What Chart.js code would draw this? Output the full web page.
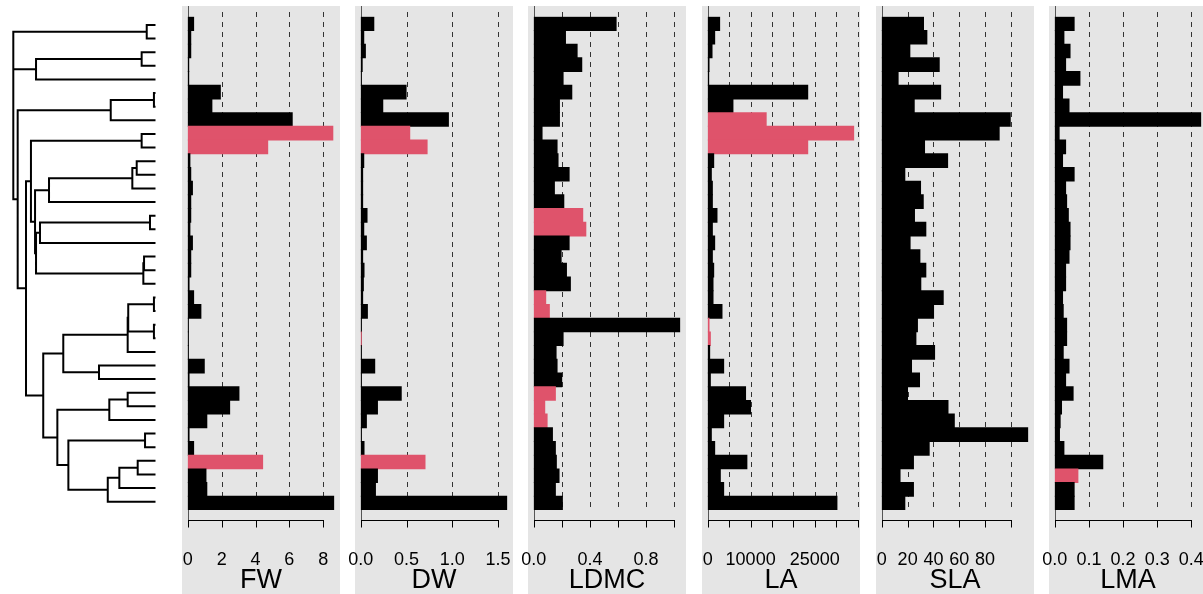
<!DOCTYPE html>
<html><head><meta charset="utf-8">
<script src="https://cdn.jsdelivr.net/npm/chart.js@4/dist/chart.umd.min.js"></script>
<style>
html,body{margin:0;padding:0;background:#fff;overflow:hidden;width:1203px;height:594px;position:relative;}
canvas{position:absolute;}
</style></head><body>
<canvas id="tree" width="181" height="594" style="left:0;top:0"></canvas>
<script>
// ---------------- data ----------------
const TRAITS = ['FW', 'DW', 'LDMC', 'LA', 'SLA', 'LMA'];
const ROWS = Array.from({length: 36}, (_, i) => 'sp' + (i + 1));   // tip order, top to bottom

const FW   = [0.37,0.2,0.2,0.08,0.08,1.95,1.45,6.2,8.6,4.75,0.15,0.2,0.3,0.2,0.2,0.15,0.3,0.2,0.2,0.1,0.37,0.8,0.05,0.05,0.05,1.0,0.1,3.05,2.5,1.15,0.1,0.37,4.45,1.1,1.15,8.65];
const DW   = [0.147,0.037,0.055,0.02,0.01,0.50,0.245,0.963,0.54,0.73,0.037,0.025,0.025,0.025,0.073,0.037,0.066,0.025,0.04,0.033,0.025,0.077,0.01,0.01,0.01,0.157,0.01,0.447,0.187,0.066,0.01,0.04,0.707,0.187,0.165,1.60];
const LDMC = [0.59,0.229,0.312,0.345,0.212,0.274,0.186,0.186,0.062,0.169,0.176,0.255,0.15,0.217,0.352,0.374,0.255,0.198,0.236,0.264,0.088,0.114,1.043,0.212,0.162,0.169,0.202,0.157,0.081,0.098,0.136,0.157,0.164,0.183,0.157,0.207];
const LA   = [2870,1710,1090,390,310,23460,5980,13750,34200,23460,1480,930,1170,1170,2250,1170,1710,1170,1480,1320,1320,3420,390,700,540,3810,700,8930,10100,3810,930,1710,9240,3030,3810,30290];
const SLA  = [32.7,35.3,22.1,44.9,13,46,25.5,100,91.4,33.5,51.4,18.2,30.4,32.5,25.7,34.5,22.3,29.9,34.5,30.6,48,40.5,28,26.8,41.3,23.4,29.6,20.3,51.7,56.6,113.5,37.1,24.9,14.5,24.9,18.2];
const LMA  = [0.058,0.028,0.046,0.033,0.075,0.024,0.043,0.429,0.014,0.033,0.024,0.058,0.033,0.036,0.041,0.046,0.046,0.043,0.033,0.033,0.024,0.026,0.036,0.036,0.026,0.043,0.033,0.055,0.021,0.017,0.015,0.028,0.142,0.069,0.058,0.058];

// rows drawn in the highlight colour, per trait
const FW_HL   = [8, 9, 32];
const DW_HL   = [8, 9, 23, 32];
const LDMC_HL = [14, 15, 20, 21, 27, 28, 29];
const LA_HL   = [7, 8, 9, 22, 23];
const SLA_HL  = [];
const LMA_HL  = [33];

// axis ticks and their labels ('' = tick without label)
const FW_TICKS   = [0, 2, 4, 6, 8];
const FW_LABELS  = ['0', '2', '4', '6', '8'];
const DW_TICKS   = [0, 0.5, 1.0, 1.5];
const DW_LABELS  = ['0.0', '0.5', '1.0', '1.5'];
const LDMC_TICKS = [0, 0.2, 0.4, 0.6, 0.8, 1.0];
const LDMC_LABELS= ['0.0', '', '0.4', '', '0.8', ''];
const LA_TICKS   = [0, 5000, 10000, 15000, 20000, 25000, 30000, 35000];
const LA_LABELS  = ['0', '', '10000', '', '', '25000', '', ''];
const SLA_TICKS  = [0, 20, 40, 60, 80, 100];
const SLA_LABELS = ['0', '20', '40', '60', '80', ''];
const LMA_TICKS  = [0, 0.1, 0.2, 0.3, 0.4];
const LMA_LABELS = ['0.0', '0.1', '0.2', '0.3', '0.4'];

// tree: [node depth (root = 0, tips = 1), children...]; integers are tip rows
const TREE = [0,
  [0.945, 0, 1],
  [0.161, [0.909, 2, 3], 4],
  [0.031,
    [0.690, [0.996, 5, 6], 7],
    [0.090,
      [0.125,
        [0.909, 8, 9],
        [0.154,
          [0.253, [0.843, [0.874, 10, 11], 12], 13],
          [0.161, [0.189, [0.968, 14, 15], 16], [0.921, [0.926, 17, 18], 19]]
        ]
      ],
      [0.212,
        [0.354,
          [0.810, [0.814, [0.996, 20, 21], [0.996, 22, 23]], 24],
          [0.607, 25, 26]
        ],
        [0.312,
          [0.680, [0.810, 27, 28], 29],
          [0.390, [0.933, 30, 31], [0.669, [0.751, [0.881, 32, 33], 34], 35]]
        ]
      ]
    ]
  ]
];

// ---------------- styling / layout ----------------
const FONT = '"Liberation Sans", Arial, Helvetica, sans-serif';
const PINK = '#DF536B';
const PANEL_GRAY = '#E5E5E5';
const PANEL_LEFT = [182, 355, 528, 702, 876, 1049];
const PANEL_W = 158, PANEL_TOP = 6, PAD = 60;
const BAR_TOP = 10.7, AXIS_H = 84, AXIS_GAP = 10, GRID_EXT = 4.7, TICK_LEN = 7;

const PANELS = [
  {name: TRAITS[0], values: FW,   hl: FW_HL,   ticks: FW_TICKS,   labels: FW_LABELS},
  {name: TRAITS[1], values: DW,   hl: DW_HL,   ticks: DW_TICKS,   labels: DW_LABELS},
  {name: TRAITS[2], values: LDMC, hl: LDMC_HL, ticks: LDMC_TICKS, labels: LDMC_LABELS},
  {name: TRAITS[3], values: LA,   hl: LA_HL,   ticks: LA_TICKS,   labels: LA_LABELS},
  {name: TRAITS[4], values: SLA,  hl: SLA_HL,  ticks: SLA_TICKS,  labels: SLA_LABELS},
  {name: TRAITS[5], values: LMA,  hl: LMA_HL,  ticks: LMA_TICKS,  labels: LMA_LABELS}
];

const panelPlugin = {
  id: 'panelDecor',
  beforeDraw(chart) {
    const {ctx, chartArea: a} = chart;
    ctx.save();
    ctx.fillStyle = PANEL_GRAY;
    ctx.fillRect(a.left, 0, a.right - a.left, chart.height);
    ctx.restore();
  },
  beforeDatasetsDraw(chart, args, opts) {
    const {ctx, chartArea: a} = chart;
    const xs = chart.scales.x;
    const ticks = opts.ticks || [];
    ctx.save();
    ctx.strokeStyle = '#333';
    ctx.lineWidth = 1;
    ctx.setLineDash([5, 5]);
    ticks.forEach(v => {
      if (v === 0) return;
      const x = Math.round(xs.getPixelForValue(v)) + 0.5;
      ctx.beginPath(); ctx.moveTo(x, a.top - GRID_EXT); ctx.lineTo(x, a.bottom); ctx.stroke();
    });
    ctx.setLineDash([]);
    ctx.strokeStyle = '#555';
    const x0 = Math.round(xs.getPixelForValue(0)) + 0.5;
    ctx.beginPath(); ctx.moveTo(x0, 0); ctx.lineTo(x0, a.bottom + AXIS_GAP); ctx.stroke();
    ctx.restore();
  },
  afterDraw(chart, args, opts) {
    const {ctx, chartArea: a} = chart;
    const xs = chart.scales.x;
    const ticks = opts.ticks || [];
    if (!ticks.length) return;
    const y = Math.round(a.bottom + AXIS_GAP) + 0.5;
    ctx.save();
    ctx.strokeStyle = '#000';
    ctx.lineWidth = 1;
    ctx.beginPath();
    ctx.moveTo(Math.round(xs.getPixelForValue(ticks[0])), y);
    ctx.lineTo(Math.round(xs.getPixelForValue(ticks[ticks.length - 1])) + 1, y);
    ticks.forEach(v => {
      const x = Math.round(xs.getPixelForValue(v)) + 0.5;
      ctx.moveTo(x, y); ctx.lineTo(x, y + TICK_LEN);
    });
    ctx.stroke();
    ctx.restore();
  }
};

PANELS.forEach((p, i) => {
  const cv = document.createElement('canvas');
  cv.width = PANEL_W + 2 * PAD;
  cv.height = 594 - PANEL_TOP;
  cv.style.left = (PANEL_LEFT[i] - PAD) + 'px';
  cv.style.top = PANEL_TOP + 'px';
  document.body.appendChild(cv);
  const R = Math.max(...p.values);
  new Chart(cv, {
    type: 'bar',
    data: {
      labels: ROWS,
      datasets: [{
        data: p.values,
        backgroundColor: p.values.map((v, k) => p.hl.includes(k) ? PINK : '#000000'),
        borderWidth: 0,
        inflateAmount: 0,
        barPercentage: 1.07,
        categoryPercentage: 1
      }]
    },
    options: {
      indexAxis: 'y',
      responsive: false,
      animation: false,
      devicePixelRatio: 1,
      layout: {padding: {left: PAD, right: PAD, top: BAR_TOP, bottom: 0}},
      plugins: {legend: {display: false}, tooltip: {enabled: false}, panelDecor: {ticks: p.ticks}},
      scales: {
        y: {type: 'category', offset: true, display: false},
        x: {
          type: 'linear', position: 'bottom',
          min: -0.04 * R, max: 1.04 * R,
          afterBuildTicks: s => { s.ticks = p.ticks.map(v => ({value: v})); },
          afterFit: s => { s.height = AXIS_H; },
          grid: {display: false},
          border: {display: false},
          ticks: {
            autoSkip: false, maxRotation: 0, minRotation: 0, padding: 31,
            color: '#000', font: {family: FONT, size: 18},
            callback: (v, k) => p.labels[k]
          },
          title: {display: true, text: p.name, color: '#000', font: {family: FONT, size: 27, lineHeight: 1}, padding: {top: 0, bottom: 0}}
        }
      }
    },
    plugins: [panelPlugin]
  });
});

// ---------------- dendrogram ----------------
const segs = [];
function walk(node) {
  if (typeof node === 'number') return node;
  const d = node[0];
  const ys = node.slice(1).map(ch => {
    const y = walk(ch);
    const cd = typeof ch === 'number' ? 1 : ch[0];
    segs.push({x: d, y: y}, {x: cd, y: y}, {x: null, y: null});
    return y;
  });
  segs.push({x: d, y: ys[0]}, {x: d, y: ys[ys.length - 1]}, {x: null, y: null});
  return (ys[0] + ys[ys.length - 1]) / 2;
}
walk(TREE);

new Chart(document.getElementById('tree'), {
  type: 'scatter',
  data: {datasets: [{
    data: segs, showLine: true, spanGaps: false, borderColor: '#000', borderWidth: 2,
    pointRadius: 0, borderCapStyle: 'square', borderJoinStyle: 'miter', clip: false
  }]},
  options: {
    responsive: false, animation: false, devicePixelRatio: 1,
    layout: {padding: {left: 13.3, right: 26.5, top: 25, bottom: 92.3}},
    plugins: {legend: {display: false}, tooltip: {enabled: false}},
    scales: {
      x: {type: 'linear', min: 0, max: 1, display: false},
      y: {type: 'linear', min: 0, max: 35, reverse: true, display: false}
    }
  }
});
</script>
</body></html>
